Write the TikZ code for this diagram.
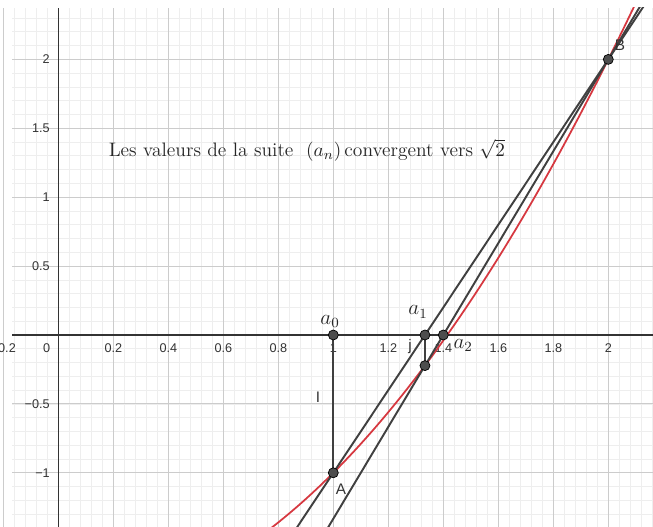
\documentclass[tikz,border=0pt]{standalone}
\usepackage{fontspec}
\newfontfamily\axisfont{Liberation Sans}
\usetikzlibrary{calc}
\definecolor{curvered}{RGB}{214,56,64}
\definecolor{linegray}{RGB}{64,64,64}
\definecolor{pointgray}{RGB}{77,77,77}
\definecolor{minorgray}{RGB}{238,238,238}
\definecolor{majorgray}{RGB}{204,204,204}
\definecolor{labelgray}{RGB}{51,51,51}

\begin{document}
\begin{tikzpicture}[x=5.5cm, y=2.756cm,
    minorline/.style={minorgray, line width=0.4pt},
    majorline/.style={majorgray, line width=0.5pt},
    axisline/.style={labelgray, line width=0.8pt},
    ticklabel/.style={labelgray, font=\axisfont\fontsize{7.2}{8}\selectfont, inner sep=0pt},
    secant/.style={linegray, line width=1.1pt},
    pointdot/.style={circle, fill=pointgray, draw=black, line width=0.4pt, minimum size=0.2cm, inner sep=0pt},
    pointname/.style={labelgray, font=\axisfont\fontsize{8.7}{10}\selectfont, inner sep=0pt},
    seqname/.style={black!85, font=\large, inner sep=0pt}]
    \useasboundingbox (-0.212,-1.393) rectangle (2.1625,2.431);

    % grid
    \foreach \gx in {-0.16,-0.12,...,2.17} {
        \draw[minorline] (\gx,-1.393) -- (\gx,2.373);
    }
    \foreach \gy in {-1.3,-1.2,...,2.35} {
        \draw[minorline] (-0.168,\gy) -- (2.1625,\gy);
    }
    \foreach \gx in {-0.2,0.2,0.4,...,2.1} {
        \draw[majorline] (\gx,-1.393) -- (\gx,2.373);
    }
    \foreach \gy in {-1,-0.5,...,2.1} {
        \draw[majorline] (-0.168,\gy) -- (2.1625,\gy);
    }

    % axes
    \draw[axisline] (-0.168,0) -- (2.1625,0);
    \draw[axisline] (0,-1.393) -- (0,2.373);

    % tick labels
    \node[ticklabel] at (-0.2,-0.094) {−0.2};
    \node[ticklabel] at (-0.042,-0.094) {0};
    \foreach \tx in {0.2,0.4,0.6,0.8,1,1.2,1.4,1.6,1.8,2} {
        \node[ticklabel] at (\tx,-0.094) {\tx};
    }
    \foreach \ty/\tl in {-1/−1,-0.5/−0.5,0.5/0.5,1/1,1.5/1.5,2/2} {
        \node[ticklabel, anchor=east] at (-0.03,\ty) {\tl};
    }

    % points
    \coordinate (A) at (1,-1);
    \coordinate (B) at (2,2);
    \coordinate (C) at (4/3,-2/9);
    \coordinate (a0) at (1,0);
    \coordinate (a1) at (4/3,0);
    \coordinate (a2) at (1.4,0);

    % curve and secants
    \begin{scope}
        \clip (-0.168,-1.393) rectangle (2.1625,2.373);
        \draw[curvered, line width=1pt, domain=0.7:2.2, samples=80] plot (\x, {\x*\x-2});
        \draw[secant] ($(A)!-0.25!(B)$) -- ($(B)!-0.25!(A)$);
        \draw[secant] ($(C)!-0.7!(B)$) -- ($(B)!-0.3!(C)$);
    \end{scope}
    \draw[secant] (a0) -- (A);
    \draw[secant] (a1) -- (C);

    \foreach \p in {A,B,C,a0,a1,a2} {
        \node[pointdot] at (\p) {};
    }

    % labels
    \node[pointname] (labA) at (1.028,-1.118) {A};
    \node[pointname] (labB) at (2.042,2.105) {B};
    \node[pointname] (labI) at (0.944,-0.45) {I};
    \node[pointname] (labJ) at (1.279,-0.087) {j};
    \node[seqname] (lab0) at (0.988,0.10) {$a_0$};
    \node[seqname] (lab1) at (1.308,0.167) {$a_1$};
    \node[seqname] (lab2) at (1.472,-0.073) {$a_2$};

    \node[black!85, font=\fontsize{11.1}{13}\selectfont, inner sep=0pt] (title) at (0.904,1.343)
        {Les valeurs de la suite\ \ $(a_n)$\,convergent vers $\sqrt{2}$};
\end{tikzpicture}
\end{document}
